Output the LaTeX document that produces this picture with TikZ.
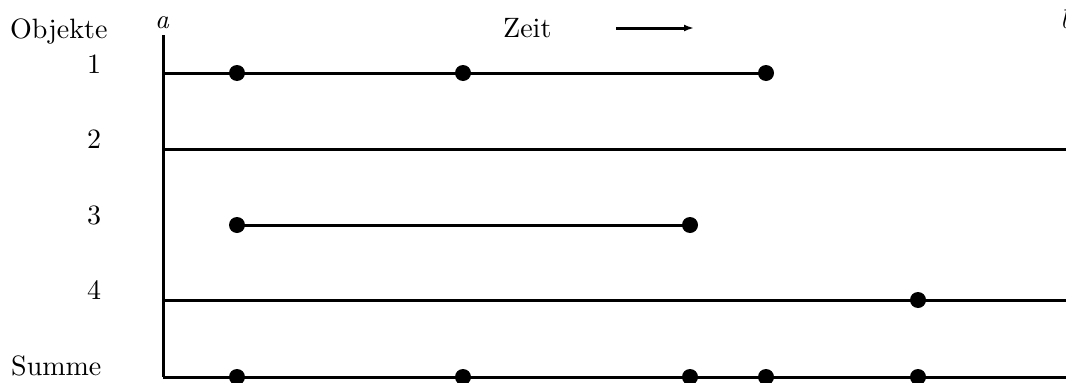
\documentclass[tikz,border=0pt]{standalone}
\usepackage{fontspec}
\setmainfont{lmroman10-regular.otf}
\newfontfamily\ititf{lmroman10-italic.otf}
\usetikzlibrary{arrows.meta}
\begin{document}
\begin{tikzpicture}[x=1pt,y=-1pt,
  ln/.style={line width=3pt},
  dot/.style={circle,fill=black,inner sep=0pt,minimum size=16pt},
  lbl/.style={inner sep=0pt,font=\fontsize{28}{32}\selectfont},
  ilbl/.style={inner sep=0pt,font=\ititf\fontsize{27}{32}\selectfont}]
\useasboundingbox (0,0) rectangle (1066,383);
% labels
\node[lbl,anchor=base west] (obj) at (10,38) {Objekte};
\node[ilbl,anchor=base] (a) at (162,28) {a};
\node[ilbl,anchor=base west] (b) at (1060,28) {b};
\node[lbl,anchor=base west] (zeit) at (503,37) {Zeit};
\node[lbl,anchor=base] (n1) at (94,73) {1};
\node[lbl,anchor=base] (n2) at (94,148) {2};
\node[lbl,anchor=base] (n3) at (94,224) {3};
\node[lbl,anchor=base] (n4) at (94,299) {4};
\node[lbl,anchor=base west] (sum) at (11,375) {Summe};
% arrow
\coordinate (ar1) at (616,28);
\coordinate (ar2) at (694,28);
\draw[line width=3pt,-{Latex[length=10pt,width=7pt]}] (ar1) -- (ar2);
% axis
\coordinate (top) at (163,35);
\coordinate (bot) at (163,377);
\draw[ln] (top) -- (bot);
% row coordinates
\coordinate (r1s) at (163,73);
\coordinate (r2s) at (163,149);
\coordinate (r2e) at (1070,149);
\coordinate (r4s) at (163,300);
\coordinate (r4e) at (1070,300);
\coordinate (r5e) at (1070,377);
% dots
\node[dot] (d11) at (237,73) {};
\node[dot] (d12) at (463,73) {};
\node[dot] (d13) at (766,73) {};
\node[dot] (d31) at (237,225) {};
\node[dot] (d32) at (690,225) {};
\node[dot] (d41) at (918,300) {};
\node[dot] (s1) at (237,377) {};
\node[dot] (s2) at (463,377) {};
\node[dot] (s3) at (690,377) {};
\node[dot] (s4) at (766,377) {};
\node[dot] (s5) at (918,377) {};
% lines
\draw[ln] (r1s) -- (d11.center) -- (d12.center) -- (d13.center);
\draw[ln] (r2s) -- (r2e);
\draw[ln] (d31.center) -- (d32.center);
\draw[ln] (r4s) -- (d41.center) -- (r4e);
\draw[ln] (bot) -- (s1.center) -- (s2.center) -- (s3.center) -- (s4.center) -- (s5.center) -- (r5e);
\end{tikzpicture}
\end{document}
